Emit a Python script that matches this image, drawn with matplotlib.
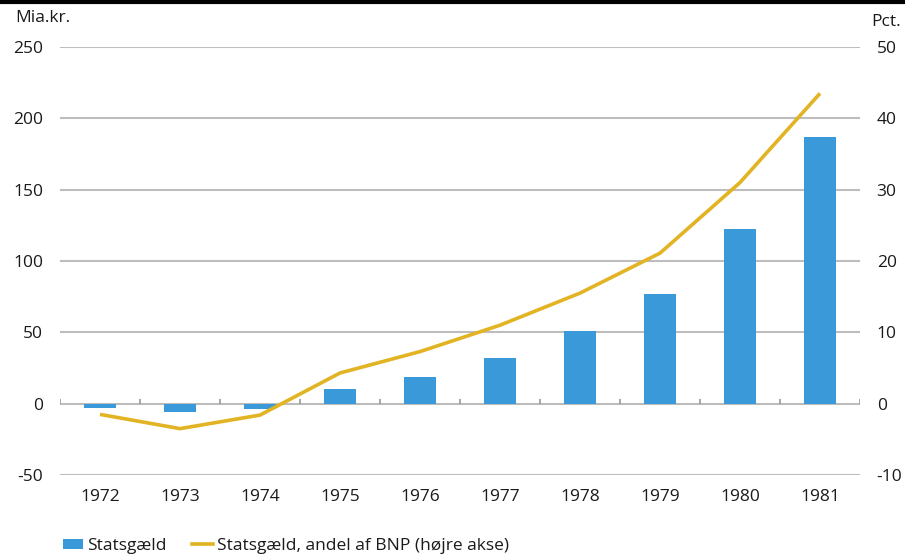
import matplotlib

matplotlib.use("Agg")
import matplotlib.pyplot as plt
import numpy as np
from matplotlib.lines import Line2D
from matplotlib.patches import Patch

plt.rcParams["font.family"] = ["Open Sans", "DejaVu Sans"]
plt.rcParams["axes.unicode_minus"] = False

years = ["1972", "1973", "1974", "1975", "1976", "1977", "1978", "1979", "1980", "1981"]
debt_bn = [-3, -6, -3.5, 10, 19, 32, 51, 77, 122.5, 187]          # Mia.kr.
debt_pct_gdp = [-1.5, -3.5, -1.6, 4.3, 7.3, 11.0, 15.5, 21.1, 31.0, 43.5]  # Pct.

BLUE = "#3A99D8"
GOLD = "#E2B323"
GRID = "#BDBDBD"
TXT = "#1a1a1a"
FS = 12.5

fig = plt.figure(figsize=(9.05, 5.6), dpi=100)
ax = fig.add_axes([60 / 905, 1 - 475 / 560, 800 / 905, 428 / 560])
x = np.arange(len(years))

ax.bar(x, debt_bn, width=0.41, color=BLUE, zorder=3)
ax.set_xlim(-0.5, len(years) - 0.5)
ax.set_ylim(-50, 250)
ax.set_yticks(np.arange(-50, 251, 50))
ax.yaxis.grid(True, color=GRID, lw=1.5)
ax.set_axisbelow(True)
for s in ax.spines.values():
    s.set_visible(False)

# small category separators sitting on the zero line
ax.vlines(np.arange(len(years) + 1) - 0.5, 0, 3.5, color="#999999", lw=1.2, zorder=2)

ax.set_xticks(x)
ax.set_xticklabels(years)
ax.tick_params(axis="x", length=0, pad=10, labelsize=FS, colors=TXT)
ax.tick_params(axis="y", length=0, pad=12, labelsize=FS, colors=TXT)

ax2 = ax.twinx()
ax2.plot(x, debt_pct_gdp, color=GOLD, lw=2.6, zorder=4, solid_capstyle="butt")
ax2.set_ylim(-10, 50)
ax2.set_yticks(np.arange(-10, 51, 10))
ax2.tick_params(axis="y", length=0, pad=12, labelsize=FS, colors=TXT)
for s in ax2.spines.values():
    s.set_visible(False)

fig.text(15 / 905, 1 - 18 / 560, "Mia.kr.", fontsize=FS, color=TXT, va="center", ha="left")
fig.text(901 / 905, 1 - 22 / 560, "Pct.", fontsize=FS, color=TXT, va="center", ha="right")

# heavy rule across the top edge
fig.add_artist(Line2D([0, 1], [1 - 1.5 / 560] * 2, color="black", lw=3, transform=fig.transFigure))

handles = [
    Patch(facecolor=BLUE, edgecolor="none"),
    Line2D([], [], color=GOLD, lw=2.6),
]
fig.legend(handles, ["Statsgæld", "Statsgæld, andel af BNP (højre akse)"],
           loc="center left", bbox_to_anchor=(47 / 905, 1 - 546 / 560), ncol=2,
           frameon=False, fontsize=FS, handlelength=1.2, handleheight=0.55,
           handletextpad=0.2, columnspacing=1.5, labelcolor=TXT)

fig.savefig("out.png", dpi=100)
